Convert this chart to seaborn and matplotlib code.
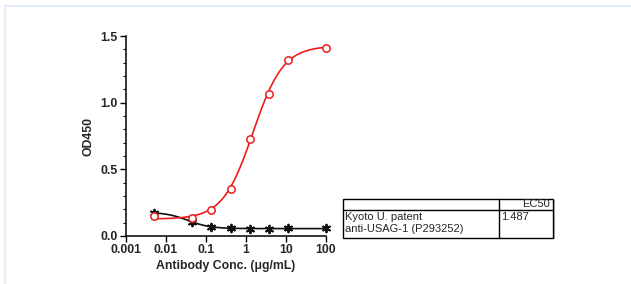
import numpy as np
import pandas as pd
import matplotlib
matplotlib.use("Agg")
import matplotlib.pyplot as plt
from matplotlib.lines import Line2D
from matplotlib.patches import Rectangle
from matplotlib.ticker import FixedLocator, FixedFormatter, LogLocator, MultipleLocator, NullFormatter
import seaborn as sns

# ---- data ----
conc = [0.00508, 0.0457, 0.1372, 0.4115, 1.235, 3.704, 11.11, 100.0]
od_patent = [0.148, 0.138, 0.198, 0.355, 0.730, 1.065, 1.320, 1.413]
od_control = [0.173, 0.105, 0.070, 0.058, 0.052, 0.052, 0.058, 0.060]
x_tick_vals = [0.001, 0.01, 0.1, 1, 10, 100]
x_tick_labels = ["0.001", "0.01", "0.1", "1", "10", "100"]
y_tick_vals = [0.0, 0.5, 1.0, 1.5]
y_tick_labels = ["0.0", "0.5", "1.0", "1.5"]
table_header = ["", "EC50"]
table_row = ["Kyoto U. patent\nanti-USAG-1 (P293252)", "1.487"]

sns.set_theme(style="ticks")
plt.rcParams["font.family"] = ["Liberation Sans", "DejaVu Sans"]


def fit4pl(x, y):
    """Least-squares 4PL fit: grid over EC50/Hill, linear solve for bottom/top."""
    x = np.asarray(x, float)
    y = np.asarray(y, float)
    best = None
    for lec in np.linspace(-3, 2, 401):
        ec = 10 ** lec
        for h in np.linspace(0.3, 4, 75):
            s = 1.0 / (1.0 + (ec / x) ** h)
            A = np.column_stack([np.ones_like(s), s])
            coef, *_ = np.linalg.lstsq(A, y, rcond=None)
            r = np.sum((A @ coef - y) ** 2)
            if best is None or r < best[0]:
                best = (r, ec, h, coef)
    _, ec, h, coef = best
    return lambda xx: coef[0] + coef[1] / (1.0 + (ec / np.asarray(xx)) ** h)


xs = np.logspace(np.log10(min(conc)), np.log10(max(conc)), 300)
f_red = fit4pl(conc, od_patent)
f_blk = fit4pl(conc, od_control)

pts = pd.DataFrame({"conc": conc * 2,
                    "od": od_patent + od_control,
                    "series": ["patent"] * len(conc) + ["control"] * len(conc)})
curves = pd.DataFrame({"conc": np.concatenate([xs, xs]),
                       "od": np.concatenate([f_red(xs), f_blk(xs)]),
                       "series": ["patent"] * len(xs) + ["control"] * len(xs)})

fig = plt.figure(figsize=(6.31, 2.84), dpi=100)
fig.patch.set_facecolor("white")
ax = fig.add_axes([126 / 631, 1 - 236 / 284, 200 / 631, 200 / 284])
ax.set_facecolor("white")

palette = {"patent": "#ee1c1c", "control": "#111111"}
sns.lineplot(data=curves[curves.series == "control"], x="conc", y="od", color=palette["control"],
             lw=1.2, ax=ax, legend=False)
sns.lineplot(data=curves[curves.series == "patent"], x="conc", y="od", color=palette["patent"],
             lw=1.2, ax=ax, legend=False)
sns.scatterplot(data=pts[pts.series == "control"], x="conc", y="od", marker=(6, 2, 0),
                s=30, color=palette["control"], edgecolor=palette["control"], linewidth=1.4,
                ax=ax, legend=False, zorder=4, clip_on=False)
sns.scatterplot(data=pts[pts.series == "patent"], x="conc", y="od", marker="o",
                s=28, facecolor="white", edgecolor=palette["patent"], linewidth=1.1,
                ax=ax, legend=False, zorder=5, clip_on=False)

ax.set_xscale("log")
ax.set_xlim(0.001, 100)
ax.set_ylim(0, 1.5)
ax.xaxis.set_major_locator(FixedLocator(x_tick_vals))
ax.xaxis.set_major_formatter(FixedFormatter(x_tick_labels))
ax.xaxis.set_minor_locator(LogLocator(base=10, subs=np.arange(2, 10)))
ax.xaxis.set_minor_formatter(NullFormatter())
ax.yaxis.set_major_locator(FixedLocator(y_tick_vals))
ax.yaxis.set_major_formatter(FixedFormatter(y_tick_labels))
ax.yaxis.set_minor_locator(MultipleLocator(0.1))

for lab in ax.get_xticklabels() + ax.get_yticklabels():
    lab.set_fontweight("bold")
    lab.set_fontsize(8.8)
ax.tick_params(which="major", direction="out", length=4, width=1.0, color="black", pad=2)
ax.tick_params(which="minor", direction="out", length=2.2, width=0.8, color="black")
ax.set_xlabel("Antibody Conc. (μg/mL)", fontsize=8.8, fontweight="bold", labelpad=3)
ax.set_ylabel("OD450", fontsize=8.8, fontweight="bold", labelpad=4)
for sp in ["top", "right"]:
    ax.spines[sp].set_visible(False)
for sp in ["left", "bottom"]:
    ax.spines[sp].set_color("black")
    ax.spines[sp].set_linewidth(1.1)
ax.grid(False)

# ---- EC50 table ----
W, H = 631, 284
def fx(px): return px / W
def fy(py): return 1 - py / H

tl, tr, tt, tm, tb, tc = 342.5, 553, 198.5, 209.5, 237.5, 498.5
fig.add_artist(Rectangle((fx(tl) + 1.5 / W, fy(tb) - 1.5 / H), fx(tr) - fx(tl), fy(tt) - fy(tb),
                         transform=fig.transFigure, facecolor="#bdbdbd", edgecolor="none", zorder=1))
fig.add_artist(Rectangle((fx(tl), fy(tb)), fx(tr) - fx(tl), fy(tt) - fy(tb),
                         transform=fig.transFigure, facecolor="white", edgecolor="black", lw=1.0, zorder=2))
fig.add_artist(Line2D([fx(tl), fx(tr)], [fy(tm), fy(tm)], transform=fig.transFigure, color="black", lw=1.0, zorder=3))
fig.add_artist(Line2D([fx(tc), fx(tc)], [fy(tt), fy(tb)], transform=fig.transFigure, color="black", lw=1.0, zorder=3))
fig.text(fx(550), fy(204), table_header[1], ha="right", va="center", fontsize=8, zorder=4)
fig.text(fx(345), fy(212), table_row[0], ha="left", va="top", fontsize=8, linespacing=1.2, zorder=4)
fig.text(fx(501), fy(212), table_row[1], ha="left", va="top", fontsize=8, zorder=4)

# ---- light frame ----
fig.add_artist(Line2D([fx(4.5), 1], [fy(5.5), fy(5.5)], transform=fig.transFigure, color="#e6eefa", lw=1.6))
fig.add_artist(Line2D([fx(4.5), fx(4.5)], [0, fy(5.5)], transform=fig.transFigure, color="#e6eefa", lw=1.6))

fig.savefig("out.png", dpi=100, facecolor="white")
